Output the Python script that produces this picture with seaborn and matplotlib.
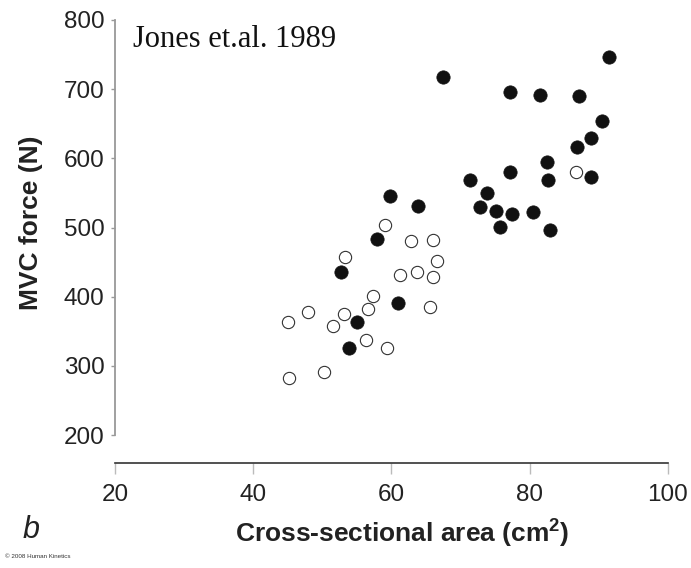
import matplotlib
matplotlib.use("Agg")
import matplotlib.pyplot as plt
import seaborn as sns
import pandas as pd

# Filled circles
filled_x = [59.8, 63.9, 57.9, 52.7, 61.0, 55.1, 53.9, 67.5, 77.2, 81.5, 82.5, 77.2, 71.4, 82.7,
            73.8, 72.8, 75.2, 77.4, 80.5, 75.7, 83.0, 91.5, 87.2, 90.5, 88.85, 86.9, 88.85]
filled_y = [545, 531, 484, 436, 391, 363, 326, 718, 696, 691, 594, 580, 569, 569,
            550, 529, 524, 520, 522, 501, 496, 746, 690, 654, 629, 617, 573]
# Open circles
open_x = [59.1, 62.9, 66.1, 66.6, 53.3, 63.7, 61.25, 66.1, 57.4, 65.6, 47.9, 53.2, 56.6,
          45.0, 51.55, 56.3, 59.3, 45.2, 50.3, 86.7]
open_y = [504, 480, 482, 452, 457, 436, 431, 429, 401, 385, 378, 375, 382,
          363, 357, 338, 326, 283, 291, 580]

x_ticks = [20, 40, 60, 80, 100]
y_ticks = [200, 300, 400, 500, 600, 700, 800]

df = pd.DataFrame({
    "area": filled_x + open_x,
    "force": filled_y + open_y,
    "group": ["filled"] * len(filled_x) + ["open"] * len(open_x),
})

sns.set_theme(style="white")
plt.rcParams["font.family"] = ["Liberation Sans", "DejaVu Sans"]
plt.rcParams["mathtext.fontset"] = "custom"
plt.rcParams["mathtext.rm"] = "Liberation Sans"
plt.rcParams["mathtext.bf"] = "Liberation Sans:bold"

W, H = 691, 568
fig = plt.figure(figsize=(W / 100, H / 100), dpi=100)
ax = fig.add_axes([115 / W, (H - 435) / H, 552.7 / W, 415 / H])

sns.scatterplot(data=df[df.group == "filled"], x="area", y="force", ax=ax,
                s=92, color="#111111", edgecolor="#111111", linewidth=0.5, zorder=3)
sns.scatterplot(data=df[df.group == "open"], x="area", y="force", ax=ax,
                s=78, facecolor="white", edgecolor="#333333", linewidth=0.8, zorder=3)

ax.set_xlim(20, 100)
ax.set_ylim(200, 800)
ax.set_xticks(x_ticks)
ax.set_yticks(y_ticks)
ax.set_xticklabels([str(t) for t in x_ticks])
ax.set_yticklabels([str(t) for t in y_ticks])

for s in ["top", "right"]:
    ax.spines[s].set_visible(False)
ax.spines["left"].set_color("#999999")
ax.spines["left"].set_linewidth(1.3)
ax.spines["bottom"].set_color("#333333")
ax.spines["bottom"].set_linewidth(1.2)
ax.spines["bottom"].set_position(("outward", 20))

ax.tick_params(axis="y", direction="out", length=3, width=1, color="#999999",
               pad=4.5, labelsize=17.5, labelcolor="#222222", left=True)
ax.tick_params(axis="x", direction="out", length=8, width=1, color="#bbbbbb",
               pad=7, labelsize=17.5, labelcolor="#222222", bottom=True)

ax.set_xlabel("Cross-sectional area (cm$^\\mathbf{2}$)", fontsize=19, fontweight="bold",
              color="#222222", va="center")
ax.xaxis.set_label_coords(0.519, -0.236)
ax.set_ylabel("MVC force (N)", fontsize=19, fontweight="bold", color="#222222", va="center")
ax.yaxis.set_label_coords(-0.152, 0.511)

fig.text(133 / W, 1 - 47 / H, "Jones et.al. 1989", fontsize=22,
         family=["Liberation Serif", "DejaVu Serif"], color="#111111", va="baseline", ha="left")
fig.text(31 / W, 1 - 530 / H, "b", fontsize=22, style="italic", color="#222222",
         va="center", ha="center")
fig.text(5 / W, 1 - 557 / H, "\u00a9 2008 Human Kinetics", fontsize=4.5, color="#333333",
         va="center", ha="left")

fig.savefig("out.png", dpi=100, facecolor="white")
